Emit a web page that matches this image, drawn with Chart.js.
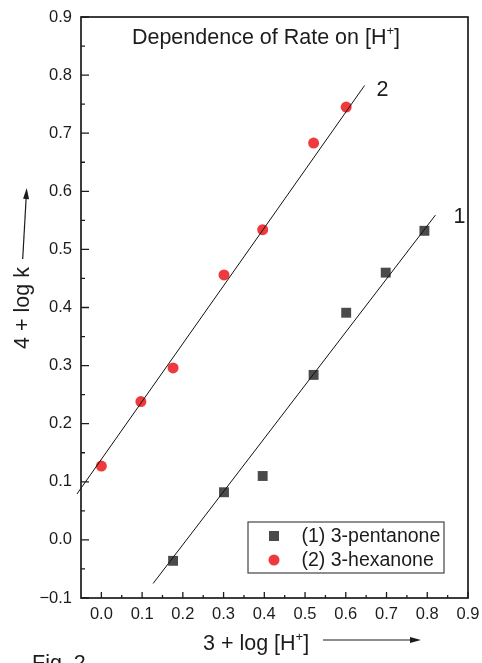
<!DOCTYPE html>
<html>
<head>
<meta charset="utf-8">
<script src="https://cdn.jsdelivr.net/npm/chart.js@4/dist/chart.umd.min.js"></script>
<style>
  html, body { margin: 0; padding: 0; background: #fff; }
  canvas { display: block; }
</style>
</head>
<body>
<canvas id="chart" width="482" height="663"></canvas>
<script>
// ============ Data ============
const xTicks = [0.0, 0.1, 0.2, 0.3, 0.4, 0.5, 0.6, 0.7, 0.8, 0.9];
const yTicks = [-0.1, 0.0, 0.1, 0.2, 0.3, 0.4, 0.5, 0.6, 0.7, 0.8, 0.9];

const seriesNames = ['(1) 3-pentanone', '(2) 3-hexanone'];

const pentanoneX = [0.176, 0.301, 0.396, 0.521, 0.601, 0.698, 0.793];
const pentanoneY = [-0.036, 0.082, 0.110, 0.284, 0.391, 0.460, 0.532];

const hexanoneX = [0.0, 0.097, 0.176, 0.301, 0.396, 0.521, 0.601];
const hexanoneY = [0.127, 0.238, 0.296, 0.456, 0.534, 0.683, 0.745];

// fitted lines (end points)
const fit1X = [0.127, 0.820];
const fit1Y = [-0.075, 0.559];
const fit2X = [-0.060, 0.646];
const fit2Y = [0.079, 0.782];

const FONT = '"Liberation Sans", Arial, Helvetica, sans-serif';
const INK = '#1c1c1c';
const SQUARE_COLOR = '#4a4a4a';
const CIRCLE_COLOR = '#ee3a3c';

const toPoints = (xs, ys) => xs.map((x, i) => ({ x, y: ys[i] }));

// ============ Helpers ============
function fmtTick(v) {
  const s = Math.abs(v).toFixed(1);
  return v < -1e-9 ? '\u2212' + s : s;
}

// text with a superscript part, e.g. [H+]
function drawRich(ctx, parts, x, y, size, align) {
  const supSize = Math.round(size * 0.6);
  let total = 0;
  parts.forEach(p => {
    ctx.font = `${p.sup ? supSize : size}px ${FONT}`;
    p.w = ctx.measureText(p.t).width;
    total += p.w;
  });
  let cx = align === 'center' ? x - total / 2 : x;
  ctx.textAlign = 'left';
  ctx.textBaseline = 'alphabetic';
  parts.forEach(p => {
    ctx.font = `${p.sup ? supSize : size}px ${FONT}`;
    ctx.fillText(p.t, cx, p.sup ? y - size * 0.42 : y);
    cx += p.w;
  });
}

function drawArrow(ctx, x1, y1, x2, y2) {
  const ang = Math.atan2(y2 - y1, x2 - x1);
  const len = 11, half = 3;
  ctx.beginPath();
  ctx.moveTo(x1, y1);
  ctx.lineTo(x2 - Math.cos(ang) * len, y2 - Math.sin(ang) * len);
  ctx.lineWidth = 1.2;
  ctx.strokeStyle = INK;
  ctx.stroke();
  ctx.beginPath();
  ctx.moveTo(x2, y2);
  ctx.lineTo(x2 - Math.cos(ang) * len - Math.sin(ang) * half, y2 - Math.sin(ang) * len + Math.cos(ang) * half);
  ctx.lineTo(x2 - Math.cos(ang) * len + Math.sin(ang) * half, y2 - Math.sin(ang) * len - Math.cos(ang) * half);
  ctx.closePath();
  ctx.fillStyle = INK;
  ctx.fill();
}

// ============ Decorations (frame, inward ticks, texts, legend) ============
const decorPlugin = {
  id: 'decor',
  afterDraw(chart) {
    const { ctx, chartArea: a, scales } = chart;
    const sx = scales.x, sy = scales.y;
    ctx.save();

    // frame
    ctx.strokeStyle = INK;
    ctx.lineWidth = 1.7;
    ctx.strokeRect(a.left, a.top, a.right - a.left, a.bottom - a.top);

    // inward ticks on left and bottom
    ctx.lineWidth = 1.3;
    ctx.beginPath();
    xTicks.forEach((v, i) => {
      const px = sx.getPixelForValue(v);
      ctx.moveTo(px, a.bottom); ctx.lineTo(px, a.bottom - 6);
      const m = v + 0.05;
      if (m < sx.max) {
        const pm = sx.getPixelForValue(m);
        ctx.moveTo(pm, a.bottom); ctx.lineTo(pm, a.bottom - 3);
      }
      if (i === 0) {
        const pm = sx.getPixelForValue(v - 0.05);
        if (pm > a.left + 1) { ctx.moveTo(pm, a.bottom); ctx.lineTo(pm, a.bottom - 3); }
      }
    });
    yTicks.forEach(v => {
      const py = sy.getPixelForValue(v);
      ctx.moveTo(a.left, py); ctx.lineTo(a.left + 8, py);
      const m = v + 0.05;
      if (m < sy.max) {
        const pm = sy.getPixelForValue(m);
        ctx.moveTo(a.left, pm); ctx.lineTo(a.left + 4, pm);
      }
    });
    ctx.stroke();

    ctx.fillStyle = INK;

    // title inside plot
    drawRich(ctx, [{ t: 'Dependence of Rate on [H' }, { t: '+', sup: true }, { t: ']' }], 266, 44, 21.5, 'center');

    // line labels
    ctx.font = `21.5px ${FONT}`;
    ctx.textAlign = 'left';
    ctx.textBaseline = 'alphabetic';
    ctx.fillText('2', sx.getPixelForValue(fit2X[1]) + 12, sy.getPixelForValue(fit2Y[1]) + 10);
    ctx.fillText('1', sx.getPixelForValue(fit1X[1]) + 18, sy.getPixelForValue(fit1Y[1]) + 8);

    // x axis title + arrow
    drawRich(ctx, [{ t: '3 + log [H' }, { t: '+', sup: true }, { t: ']' }], 203, 650, 21.5, 'left');
    drawArrow(ctx, 323, 640, 421, 640);

    // y axis title + arrow
    ctx.save();
    ctx.translate(29, 308);
    ctx.rotate(-Math.PI / 2);
    ctx.font = `21.5px ${FONT}`;
    ctx.textAlign = 'center';
    ctx.fillStyle = INK;
    ctx.fillText('4 + log k', 0, 0);
    ctx.restore();
    drawArrow(ctx, 22.7, 259, 26.7, 188);

    // figure caption (cut by the bottom edge)
    ctx.font = `21.5px ${FONT}`;
    ctx.textAlign = 'left';
    ctx.fillStyle = INK;
    ctx.fillText('Fig. 2', 32, 670);

    // legend box
    const lx = 248, ly = 522, lw = 196, lh = 51;
    ctx.fillStyle = '#fff';
    ctx.fillRect(lx, ly, lw, lh);
    ctx.strokeStyle = '#444';
    ctx.lineWidth = 1.2;
    ctx.strokeRect(lx, ly, lw, lh);

    ctx.fillStyle = SQUARE_COLOR;
    ctx.fillRect(274 - 5, 536 - 5, 10, 10);
    ctx.fillStyle = CIRCLE_COLOR;
    ctx.beginPath();
    ctx.arc(274, 560, 5.5, 0, Math.PI * 2);
    ctx.fill();

    ctx.fillStyle = INK;
    ctx.font = `19.5px ${FONT}`;
    ctx.textBaseline = 'middle';
    ctx.fillText(seriesNames[0], 301.5, 537);
    ctx.fillText(seriesNames[1], 301.5, 561);

    ctx.restore();
  },
};

// ============ Chart ============
const ctx = document.getElementById('chart').getContext('2d');
new Chart(ctx, {
  type: 'scatter',
  data: {
    datasets: [
      {
        label: 'fit 1',
        data: toPoints(fit1X, fit1Y),
        showLine: true,
        borderColor: '#111',
        borderWidth: 1,
        pointRadius: 0,
        clip: false,
        order: 0,
      },
      {
        label: 'fit 2',
        data: toPoints(fit2X, fit2Y),
        showLine: true,
        borderColor: '#111',
        borderWidth: 1,
        pointRadius: 0,
        clip: false,
        order: 0,
      },
      {
        label: seriesNames[0],
        data: toPoints(pentanoneX, pentanoneY),
        pointStyle: 'rect',
        pointRadius: 7,
        pointBackgroundColor: SQUARE_COLOR,
        pointBorderWidth: 0,
        order: 1,
      },
      {
        label: seriesNames[1],
        data: toPoints(hexanoneX, hexanoneY),
        pointStyle: 'circle',
        pointRadius: 5.5,
        pointBackgroundColor: CIRCLE_COLOR,
        pointBorderWidth: 0,
        order: 1,
      },
    ],
  },
  options: {
    responsive: false,
    animation: false,
    devicePixelRatio: 1,
    layout: { padding: { top: 17, right: 14, left: 0, bottom: 0 } },
    plugins: {
      legend: { display: false },
      tooltip: { enabled: false },
      title: { display: false },
    },
    scales: {
      x: {
        type: 'linear',
        min: -0.05,
        max: 0.9,
        afterBuildTicks: s => { s.ticks = xTicks.map(v => ({ value: v })); },
        afterFit: s => { s.height = 65; s.paddingLeft = 0; s.paddingRight = 0; },
        grid: { display: false, drawTicks: false },
        border: { display: false },
        ticks: {
          padding: 7,
          color: INK,
          font: { family: FONT, size: 16.5 },
          callback: v => fmtTick(v),
        },
      },
      y: {
        type: 'linear',
        min: -0.1,
        max: 0.9,
        afterBuildTicks: s => { s.ticks = yTicks.map(v => ({ value: v })); },
        afterFit: s => { s.width = 81; s.paddingTop = 0; s.paddingBottom = 0; },
        grid: { display: false, drawTicks: false },
        border: { display: false },
        ticks: {
          padding: 9,
          color: INK,
          font: { family: FONT, size: 16.5 },
          callback: v => fmtTick(v),
        },
      },
    },
  },
  plugins: [decorPlugin],
});
</script>
</body>
</html>
